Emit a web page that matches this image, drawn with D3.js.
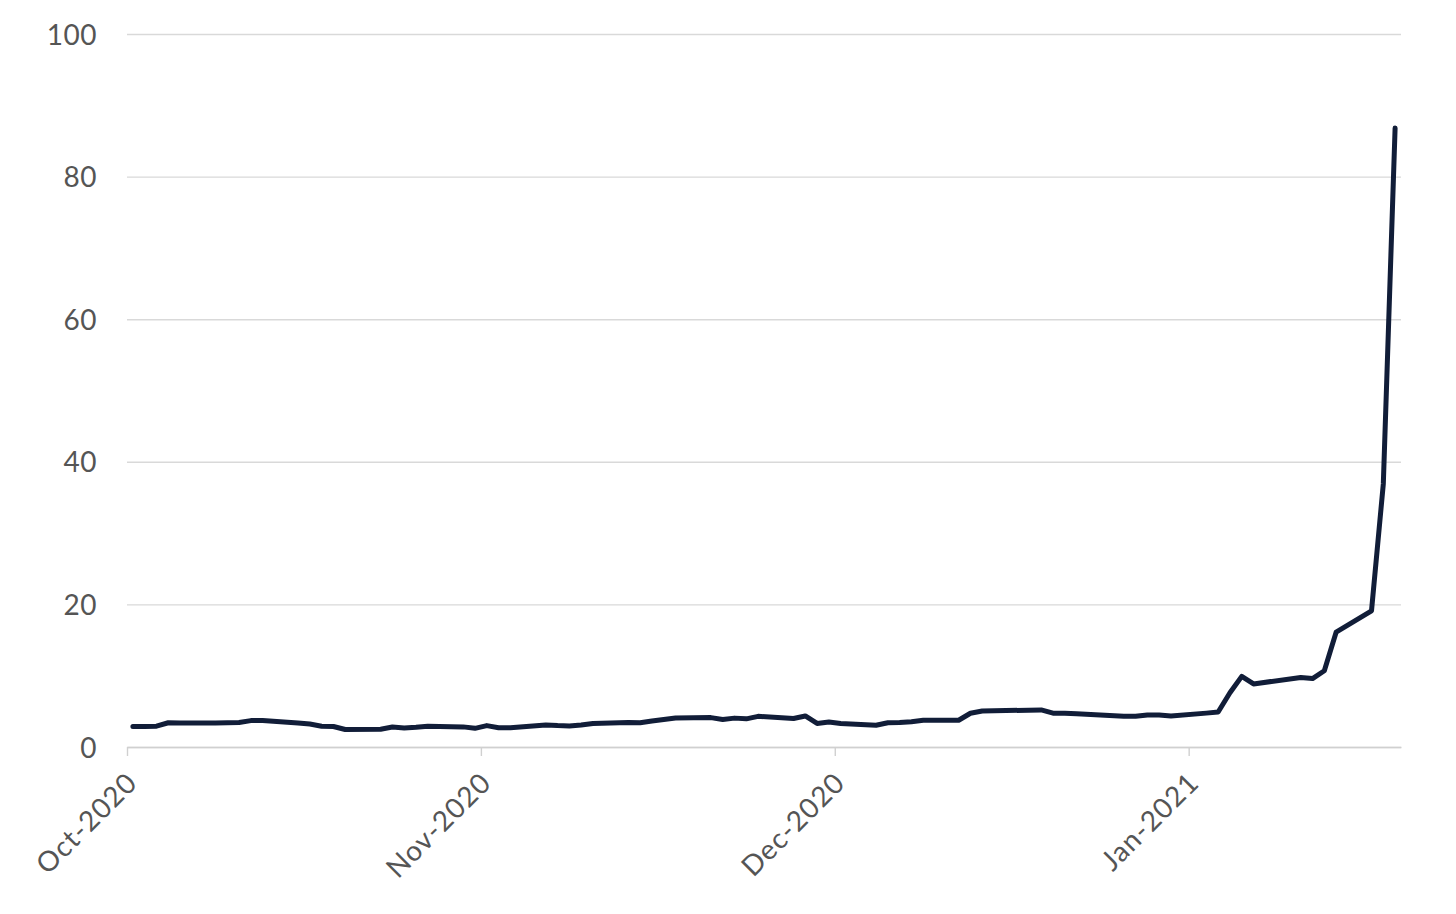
<!DOCTYPE html>
<html>
<head>
<meta charset="utf-8">
<script src="https://cdn.jsdelivr.net/npm/d3@7"></script>
<style>
  html, body { margin: 0; padding: 0; background: #ffffff; }
  svg { display: block; }
  .tick text { font-family: Lato, "Noto Sans", sans-serif; font-weight: 400; }
</style>
</head>
<body>
<svg id="chart" width="1456" height="914"></svg>
<script>
// ---- data (trading days) ----
const dates = [
  "2020-10-12","2020-10-13","2020-10-14","2020-10-15","2020-10-16",
  "2020-10-19","2020-10-20","2020-10-21","2020-10-22","2020-10-23",
  "2020-10-26","2020-10-27","2020-10-28","2020-10-29","2020-10-30",
  "2020-11-02","2020-11-03","2020-11-04","2020-11-05","2020-11-06",
  "2020-11-09","2020-11-10","2020-11-11","2020-11-12","2020-11-13",
  "2020-11-16","2020-11-17","2020-11-18","2020-11-19","2020-11-20",
  "2020-11-23","2020-11-24","2020-11-25","2020-11-27","2020-11-30",
  "2020-12-01","2020-12-02","2020-12-03","2020-12-04",
  "2020-12-07","2020-12-08","2020-12-09","2020-12-10","2020-12-11",
  "2020-12-14","2020-12-15","2020-12-16","2020-12-17","2020-12-18",
  "2020-12-21","2020-12-22","2020-12-23","2020-12-24",
  "2020-12-28","2020-12-29","2020-12-30","2020-12-31",
  "2021-01-04","2021-01-05","2021-01-06","2021-01-07","2021-01-08",
  "2021-01-11","2021-01-12","2021-01-13","2021-01-14","2021-01-15",
  "2021-01-19","2021-01-20","2021-01-21","2021-01-22",
  "2021-01-25","2021-01-26","2021-01-27"
];
const values = [
  2.87, 2.87, 2.92, 3.40, 3.35,
  3.38, 3.40, 3.44, 3.70, 3.72,
  3.38, 3.22, 2.92, 2.88, 2.45,
  2.50, 2.80, 2.68, 2.78, 2.92,
  2.82, 2.62, 3.00, 2.70, 2.70,
  3.10, 3.00, 2.95, 3.10, 3.30,
  3.45, 3.40, 3.65, 4.07, 4.12,
  3.85, 4.05, 3.95, 4.30,
  4.00, 4.35, 3.30, 3.50, 3.30,
  3.05, 3.40, 3.42, 3.55, 3.75,
  3.75, 4.73, 5.05, 5.08,
  5.20, 4.75, 4.73, 4.65,
  4.30, 4.30, 4.50, 4.48, 4.35,
  4.75, 4.90, 7.60, 9.90, 8.85,
  9.75, 9.60, 10.70, 16.10,
  19.10, 36.90, 86.80
];
const xDomain = ["2020-10-12", "2021-01-28"];
const xTickDates = ["2020-10-12", "2020-11-11", "2020-12-11", "2021-01-10"];
const yTicks = [0, 20, 40, 60, 80, 100];

// ---- layout ----
const svg = d3.select("#chart");
const plotLeft = 127, plotRight = 1401, plotTop = 34, plotBottom = 747;
const parse = d3.utcParse("%Y-%m-%d");
const fmt = d3.utcFormat("%b-%Y");

const x = d3.scaleUtc()
  .domain(xDomain.map(parse))
  .range([plotLeft, plotRight]);
const y = d3.scaleLinear().domain([0, 100]).range([plotBottom, plotTop]);

const data = dates.map((d, i) => ({
  date: d3.utcHour.offset(parse(d), 12),
  value: values[i]
}));

// gridlines + y labels
const yAxis = d3.axisLeft(y)
  .tickValues(yTicks)
  .tickSize(-(plotRight - plotLeft))
  .tickPadding(30)
  .tickFormat(d3.format("d"));
const gy = svg.append("g")
  .attr("transform", `translate(${plotLeft},0)`)
  .call(yAxis);
gy.select(".domain").remove();
gy.selectAll(".tick line").attr("stroke", "#d9d9d9").attr("stroke-width", 1.4);
gy.selectAll(".tick text")
  .attr("fill", "#555555")
  .attr("font-size", 28)
  .attr("letter-spacing", "0.5px")
  .attr("dy", "0.36em");

// x axis
const xAxis = d3.axisBottom(x)
  .tickValues(xTickDates.map(parse))
  .tickSize(9)
  .tickSizeOuter(0)
  .tickFormat(fmt);
const gx = svg.append("g")
  .attr("transform", `translate(0,${plotBottom})`)
  .call(xAxis);
gx.select(".domain").attr("stroke", "#d0d0d0").attr("stroke-width", 1.4);
gx.selectAll(".tick line").attr("stroke", "#d0d0d0").attr("stroke-width", 1.4);
gx.selectAll(".tick text")
  .attr("fill", "#555555")
  .attr("font-size", 28)
  .attr("letter-spacing", "1px")
  .attr("text-anchor", "end")
  .attr("dx", "0")
  .attr("dy", "0")
  .attr("transform", "translate(3,29) rotate(-45)");

// line
const line = d3.line()
  .x(d => x(d.date))
  .y(d => y(d.value));
svg.append("path")
  .datum(data)
  .attr("fill", "none")
  .attr("stroke", "#111d38")
  .attr("stroke-width", 5)
  .attr("stroke-linejoin", "round")
  .attr("stroke-linecap", "round")
  .attr("d", line);
</script>
</body>
</html>
